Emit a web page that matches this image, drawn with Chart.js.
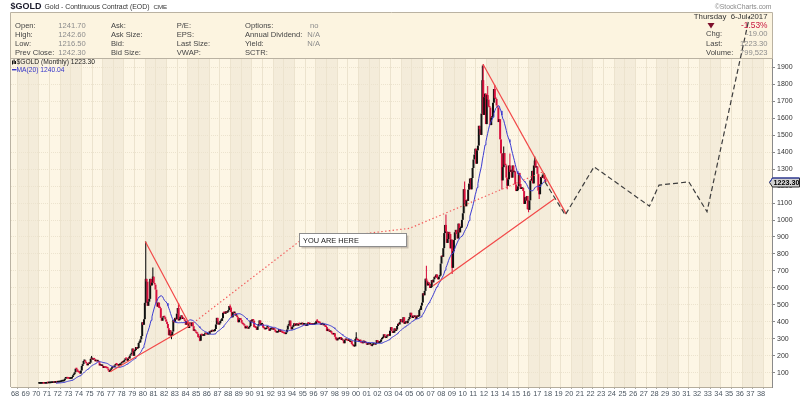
<!DOCTYPE html>
<html><head><meta charset="utf-8">
<script src="https://cdn.jsdelivr.net/npm/chart.js@4.4.0/dist/chart.umd.min.js"></script>
<style>html,body{margin:0;padding:0;background:#fff;}#wrap{width:800px;height:399px;position:relative;}</style>
</head><body><div id="wrap"><canvas id="c" width="800" height="399"></canvas></div>
<script>
// ---------- DATA ----------
const startYear = 1970; // first monthly bar: Jan 1970
const gold1970s = [
34.94,35.00,35.09,35.62,35.95,35.43,35.32,35.38,36.19,37.52,37.44,37.44,
37.87,38.74,38.87,39.04,40.52,40.10,41.00,42.75,42.02,42.50,42.90,43.48,
45.75,48.25,48.30,49.00,54.62,65.10,65.70,67.00,65.50,64.90,62.90,63.91,
65.10,74.20,84.50,90.50,102.0,123.0,120.0,106.0,103.0,100.0,94.00,112.25,
139.0,150.0,168.4,172.25,163.25,154.1,143.0,154.1,151.5,158.5,181.0,186.5,
176.0,182.0,178.0,167.0,167.0,166.25,166.7,161.0,142.0,143.0,139.0,140.25,
128.0,132.0,129.0,128.0,126.0,124.0,112.5,104.0,116.0,123.0,130.0,134.5,
132.0,142.0,148.9,148.0,143.0,141.0,144.75,145.0,154.0,162.0,160.0,164.95,
175.0,182.0,181.0,170.0,184.0,183.0,200.0,208.0,218.0,242.0,199.0,226.0,
233.0,251.0,241.0,245.0,275.0,278.0,296.0,316.0,397.0,382.0,415.0,512.0];
const gold1980s = [
653,637,494,518,535,653,614,631,666,629,619,589.5,
506,489,513,482,480,423,406,425,428,427,414,400,
387,362,320,350,317,317,342,411,397,423,414,448,
481,408,414,429,437,416,422,414,405,382,405,382,
363,394,388,374,396,374,346,348,342,333,329,309,
306,288,326,321,317,317,327,333,326,325,325,327,
345,339,344,345,343,345,357,384,423,402,383,391,
405,405,421,453,451,447,462,453,459,469,493,484,
458,426,457,451,451,436,437,427,397,412,421,410,
394,387,383,377,361,373,368,359,367,375,408,401];
const gold1990s = [
415,407,368,367,363,352,372,387,408,380,384,386,
366,362,355,357,366,368,362,347,354,357,366,353,
354,353,341,336,337,343,357,340,349,339,334,333,
330,327,337,354,377,378,407,372,355,370,374,391,
377,381,391,377,387,386,384,386,394,383,383,383,
375,376,392,389,385,387,383,382,384,383,387,387,
405,400,396,393,392,382,385,387,379,379,371,369,
345,358,348,340,345,334,326,325,332,311,296,290,
305,297,301,310,293,296,288,273,294,292,294,288,
287,288,280,286,268,261,255,255,299,299,292,290];
const gold2000s = [
283,294,278,274,273,289,276,278,273,264,269,273,
266,267,258,264,267,271,265,273,292,279,275,277,
282,296,302,308,326,318,304,312,324,318,317,347,
368,347,334,336,361,346,354,375,388,384,398,416,
400,396,427,388,394,395,391,407,416,428,453,438,
422,435,428,436,417,435,429,433,469,470,495,513,
568,556,582,654,643,614,632,623,599,604,646,632,
650,665,662,679,659,650,666,672,743,789,783,834,
923,971,933,865,888,930,918,833,884,718,816,882,
928,942,916,891,979,927,953,955,1001,1040,1182,1097];
const gold2010s = [
1081,1118,1113,1179,1215,1245,1181,1248,1307,1357,1386,1421,
1332,1411,1439,1556,1536,1502,1628,1825,1620,1725,1746,1566,
1737,1711,1669,1664,1560,1604,1610,1692,1773,1720,1714,1676,
1664,1578,1595,1476,1393,1234,1312,1395,1327,1323,1250,1202,
1240,1322,1284,1296,1250,1322,1282,1287,1210,1171,1175,1199,
1278,1213,1183,1184,1190,1171,1095,1134,1115,1142,1064,1060,
1116,1234,1233,1290,1216,1322,1351,1309,1316,1272,1173,1152,
1211,1254,1249,1268,1268,1242,1223.3];
// notable monthly extremes (wicks)
const highWicks = [["1974-12",197.5],["1980-01",873],["1980-09",720],["1983-02",511],["1987-12",502],
 ["1996-02",416],["1999-10",338],["2006-05",730],["2008-03",1033],["2009-12",1227],["2011-08",1911],
 ["2011-09",1921],["2012-02",1791],["2012-10",1796],["2013-08",1434],["2014-03",1392],["2016-07",1375]];
const lowWicks = [["1976-08",103],["1982-06",297],["1985-02",285],["1999-08",252],["2001-04",256],
 ["2008-10",681],["2013-06",1180],["2013-12",1182],["2015-12",1046],["2016-12",1124]];
// drawn trend lines [year, price]
const trend1980Down = [[1980.0,873],[1984.2,378]];
const trend1980Up = [[1976.7,105],[1984.2,378]];
const trendDotted = [[1984.2,378],[1994.45,874],[2004.8,951],[2017.3,1284]];
const trend2011Down = [[2011.7,1918],[2019.5,1035]];
const trend2011Up = [[2007.0,612],[2018.4,1125]];
const forecastPath = [[2017.5,1225],[2019.4,1030],[2022.1,1314],[2027.3,1082],[2028.2,1206],[2031.0,1225],[2032.7,1049],[2036.7,2205]];
const yAxisTicks = [100,1900]; // first/last labelled price
const xAxisYears = [1968,2038]; // first/last labelled year
const lastPrice = 1223.30;
// ---------- BUILD ----------
const closes = [...gold1970s,...gold1980s,...gold1990s,...gold2000s,...gold2010s];
const monthX = i => startYear + (i + 0.5) / 12;
const UP = '#111111', DOWN = '#d8123e';
const candleData = closes.map((c,i)=>{const o=i?closes[i-1]:c;return {x:monthX(i),y:[Math.min(o,c),Math.max(o,c)],up:c>=o};});
const idxOf = s => {const [Y,M]=s.split('-').map(Number);return (Y-startYear)*12+M-1;};
const wickData = [];
highWicks.forEach(([m,h])=>{const c=candleData[idxOf(m)];wickData.push({x:c.x,y:[c.y[0],h],up:c.up});});
lowWicks.forEach(([m,l])=>{const c=candleData[idxOf(m)];wickData.push({x:c.x,y:[l,c.y[1]],up:c.up});});
const maData = closes.map((c,i)=> i<19?null:{x:monthX(i),y:closes.slice(i-19,i+1).reduce((a,b)=>a+b,0)/20}).filter(Boolean);
const pts = arr => arr.map(([x,y])=>({x,y}));
const youAreHere = {x0:1994.45, x1:2004.5, yTop:922, yBot:849, text:'YOU ARE HERE'};

const SANS = '"Liberation Sans", Arial, sans-serif';
const bgPlugin = {
  id:'bg',
  beforeDraw(chart){
    const {ctx, chartArea:a, scales:{x}} = chart;
    ctx.save();
    ctx.fillStyle='#fff'; ctx.fillRect(0,0,chart.width,chart.height);
    ctx.fillStyle='#fcf4e0'; ctx.fillRect(a.left,12,a.right-a.left,a.top-12);
    ctx.fillStyle='#fdf6e5'; ctx.fillRect(a.left,a.top,a.right-a.left,a.bottom-a.top);
    ctx.fillStyle='#f4ecda';
    for(let yr=1968; yr<2040; yr+=4){
      const p0=Math.max(a.left,x.getPixelForValue(yr)), p1=Math.min(a.right,x.getPixelForValue(yr+2));
      if(p1>p0) ctx.fillRect(p0,a.top,p1-p0,a.bottom-a.top);
    }
    ctx.strokeStyle='#bab2a2'; ctx.lineWidth=1;
    ctx.beginPath();
    ctx.moveTo(a.left-0.5,a.bottom); ctx.lineTo(a.left-0.5,12.5); ctx.lineTo(a.right+0.5,12.5); ctx.lineTo(a.right+0.5,a.top);
    ctx.moveTo(a.left,a.top-0.5); ctx.lineTo(a.right,a.top-0.5);
    ctx.stroke();
    ctx.textBaseline='middle'; ctx.textAlign='left';
    ctx.fillStyle='#1b1b2b'; ctx.font='bold 9px '+SANS; ctx.fillText('$GOLD',10.5,7);
    let w=ctx.measureText('$GOLD').width;
    ctx.fillStyle='#333'; ctx.font='6.9px '+SANS; ctx.fillText('Gold - Continuous Contract (EOD)',10.5+w+3,7.5);
    let w2=ctx.measureText('Gold - Continuous Contract (EOD)').width;
    ctx.font='6.2px '+SANS; ctx.fillText('CME',10.5+w+3+w2+4,7.5);
    ctx.textAlign='right'; ctx.fillStyle='#8a8a8a'; ctx.font='6.8px '+SANS; ctx.fillText('\u00A9StockCharts.com',771.5,7);
    const rowsY=[26,34.5,43.7,53];
    const lab='#444', val='#8c8c8c';
    ctx.font='7.6px '+SANS; ctx.textAlign='left';
    const col1=[['Open:','1241.70'],['High:','1242.60'],['Low:','1216.50'],['Prev Close:','1242.30']];
    col1.forEach(([l,v],k)=>{ctx.fillStyle=lab;ctx.fillText(l,15,rowsY[k]);ctx.fillStyle=val;ctx.fillText(v,58.3,rowsY[k]);});
    ['Ask:','Ask Size:','Bid:','Bid Size:'].forEach((l,k)=>{ctx.fillStyle=lab;ctx.fillText(l,111,rowsY[k]);});
    ['P/E:','EPS:','Last Size:','VWAP:'].forEach((l,k)=>{ctx.fillStyle=lab;ctx.fillText(l,176.7,rowsY[k]);});
    ['Options:','Annual Dividend:','Yield:','SCTR:'].forEach((l,k)=>{ctx.fillStyle=lab;ctx.fillText(l,245,rowsY[k]);});
    ctx.fillStyle=val; ctx.fillText('no',310,rowsY[0]); ctx.fillText('N/A',307.3,rowsY[1]); ctx.fillText('N/A',307.3,rowsY[2]);
    ctx.textAlign='right'; ctx.fillStyle='#333'; ctx.font='7.8px '+SANS;
    ctx.fillText('Thursday  6-Jul-2017',767.5,16.7);
    ctx.fillStyle='#c8163e'; ctx.font='8.4px '+SANS; ctx.fillText('-1.53%',767.5,26);
    ctx.fillStyle='#7d0f2c'; ctx.beginPath(); ctx.moveTo(707.5,23); ctx.lineTo(714.5,23); ctx.lineTo(711,28.5); ctx.closePath(); ctx.fill();
    ctx.font='7.6px '+SANS;
    [['Chg:','-19.00',34.3],['Last:','1223.30',43.7],['Volume:','799,523',53.3]].forEach(([l,v,yy])=>{
      ctx.textAlign='left'; ctx.fillStyle=lab; ctx.fillText(l,706,yy);
      ctx.textAlign='right'; ctx.fillStyle=val; ctx.fillText(v,767.5,yy);
    });
    ctx.restore();
  },
  afterDatasetsDraw(chart){
    const {ctx, scales:{x,y}} = chart;
    const bx0=Math.round(x.getPixelForValue(youAreHere.x0))+0.5, bx1=Math.round(x.getPixelForValue(youAreHere.x1))+0.5;
    const by0=Math.round(y.getPixelForValue(youAreHere.yTop))+0.5, by1=Math.round(y.getPixelForValue(youAreHere.yBot))+0.5;
    ctx.save();
    ctx.fillStyle='rgba(120,110,100,0.35)'; ctx.fillRect(bx0+2,by0+2,bx1-bx0,by1-by0);
    ctx.fillStyle='#ffffff'; ctx.fillRect(bx0,by0,bx1-bx0,by1-by0);
    ctx.strokeStyle='#8d8d8d'; ctx.lineWidth=1; ctx.strokeRect(bx0,by0,bx1-bx0,by1-by0);
    ctx.fillStyle='#222'; ctx.font='7.4px '+SANS; ctx.textBaseline='middle'; ctx.textAlign='left';
    ctx.fillText(youAreHere.text,bx0+3.5,(by0+by1)/2+0.5);
    ctx.restore();
  },
  afterDraw(chart){
    const {ctx, chartArea:a, scales:{y}} = chart;
    ctx.save();
    ctx.fillStyle='#111'; ctx.fillRect(12,60.5,1,4); ctx.fillRect(13.5,59.5,1.2,4.5); ctx.fillRect(15,61,1,3);
    ctx.font='6.7px '+SANS; ctx.textBaseline='middle'; ctx.textAlign='left';
    ctx.fillStyle='#222'; ctx.fillText('$GOLD (Monthly) 1223.30',16.5,62.4);
    ctx.fillStyle='#3434c8'; ctx.fillRect(12,69,4.5,1.4); ctx.fillText('MA(20) 1240.04',16.5,69.8);
    const py=Math.round(y.getPixelForValue(lastPrice))+0.5;
    ctx.beginPath(); ctx.moveTo(a.right-2.5,py); ctx.lineTo(a.right+0.5,py-4.5); ctx.lineTo(799.5,py-4.5); ctx.lineTo(799.5,py+4.5); ctx.lineTo(a.right+0.5,py+4.5); ctx.closePath();
    ctx.fillStyle='#d2d2d2'; ctx.fill(); ctx.strokeStyle='#2a2a2a'; ctx.lineWidth=1; ctx.stroke();
    ctx.strokeStyle='#3040c0'; ctx.beginPath(); ctx.moveTo(a.right-2.5,py); ctx.lineTo(a.right+0.5,py-4.5); ctx.lineTo(799.5,py-4.5); ctx.stroke();
    ctx.fillStyle='#000'; ctx.font='bold 7.2px '+SANS; ctx.textAlign='left'; ctx.fillText('1223.30',a.right+1.5,py+0.5);
    ctx.restore();
  }
};

new Chart(document.getElementById('c'), {
  type:'bar',
  data:{datasets:[
    {type:'line', data:pts(forecastPath), borderColor:'#3d3d3d', borderWidth:1.2, borderDash:[5,3], pointRadius:0, tension:0, clip:false, order:0},
    {type:'line', data:pts(trend1980Down), borderColor:'#f24848', borderWidth:1.2, pointRadius:0, order:1},
    {type:'line', data:pts(trend1980Up), borderColor:'#f24848', borderWidth:1.2, pointRadius:0, order:1},
    {type:'line', data:pts(trend2011Down), borderColor:'#f24848', borderWidth:1.2, pointRadius:0, order:1},
    {type:'line', data:pts(trend2011Up), borderColor:'#f24848', borderWidth:1.2, pointRadius:0, order:1},
    {type:'line', data:pts(trendDotted), borderColor:'#f25a5a', borderWidth:1.2, borderDash:[1.4,2.4], pointRadius:0, order:1},
    {type:'line', data:maData, borderColor:'#3b3bd2', borderWidth:1, pointRadius:0, tension:0, order:4},
    {type:'bar', data:candleData, backgroundColor:candleData.map(d=>d.up?UP:DOWN), grouped:false, barPercentage:2.3, categoryPercentage:1, maxBarThickness:2, minBarLength:1.5, order:5},
    {type:'bar', data:wickData, backgroundColor:wickData.map(d=>d.up?UP:DOWN), grouped:false, barPercentage:1.2, categoryPercentage:1, maxBarThickness:1.1, order:6}
  ]},
  options:{
    responsive:false, animation:false, events:[],
    plugins:{legend:{display:false}, tooltip:{enabled:false}},
    layout:{padding:{left:11, top:59, right:0, bottom:0}},
    scales:{
      x:{type:'linear', min:xAxisYears[0]-0.6, max:xAxisYears[1]+0.8, offset:false,
        grid:{offset:false, color:'#ece3ce', lineWidth:1, drawTicks:true, tickLength:2, tickColor:'#a9a9a9'},
        border:{display:true, color:'#b5ad9c'},
        ticks:{stepSize:1, autoSkip:false, maxRotation:0, minRotation:0, includeBounds:false, padding:0.5, labelOffset:-2.4,
          font:{family:SANS, size:7.4}, color:'#4a5560', callback:v=>String(Math.round(v)%100).padStart(2,'0')},
        afterFit(s){s.height=12;}},
      y:{type:'linear', position:'right', min:15, max:1950,
        grid:{color:'#ece3ce', lineWidth:1, tickLength:3, tickColor:'#888'},
        border:{display:true, color:'#8a8a8a', dash:[1,1]},
        ticks:{stepSize:yAxisTicks[0], includeBounds:false, padding:2, font:{family:SANS, size:7}, color:'#333',
          callback:v=>String(Math.round(v))},
        afterFit(s){s.width=28;}}
    }
  },
  plugins:[bgPlugin]
});
</script></body></html>
